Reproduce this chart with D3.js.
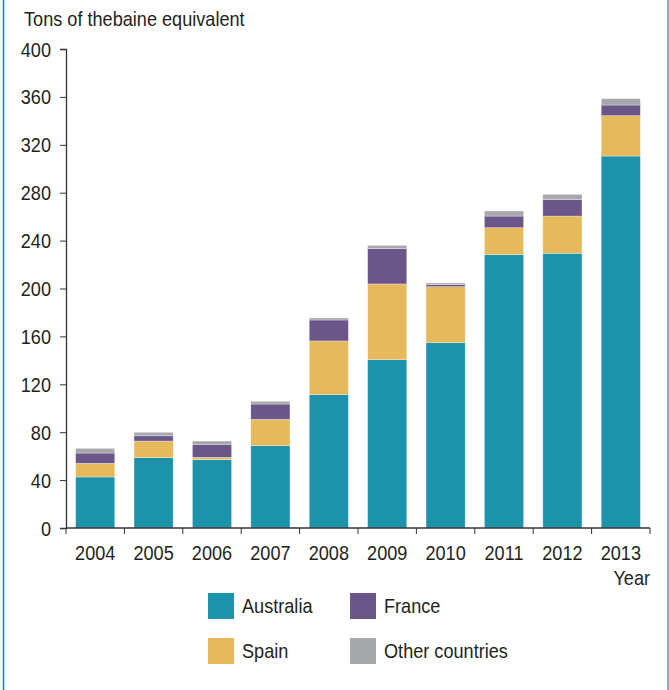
<!DOCTYPE html>
<meta charset="utf-8">
<title>Thebaine production</title>
<style>
  body { margin: 0; background: #fff; }
  text { font-family: "Liberation Sans", Arial, sans-serif; fill: #231f20; font-size: 19.5px; }
  .axis path, .axis line { stroke: #333; }
</style>
<body>
<script src="https://cdn.jsdelivr.net/npm/d3@7"></script>
<script>

var width = 669,
    height = 690;

var years = ["2004", "2005", "2006", "2007", "2008", "2009", "2010", "2011", "2012", "2013"];
var countries = ["Australia", "Spain", "France", "Other countries"];
var colors = ["#1c93aa", "#e6b95c", "#6a5689", "#a7a8ac"];

// tons of thebaine equivalent
var australia = [42.6, 58.7, 57.0, 68.7, 111.3, 140.6, 154.8, 228.3, 229.4, 310.6];
var spain     = [11.4, 13.9,  2.0, 22.0,  44.9,  63.2,  46.7,  22.5,  31.1,  33.7];
var france    = [ 8.6,  4.4, 10.9, 12.8,  17.5,  29.5,   1.7,   9.7,  13.7,   8.9];
var other     = [ 3.9,  2.9,  2.7,  2.3,   1.7,   2.7,   1.4,   4.2,   4.4,   5.3];
var yTicks = [0, 40, 80, 120, 160, 200, 240, 280, 320, 360, 400];

var rows = years.map(function(y, i) {
  return {year: y, "Australia": australia[i], "Spain": spain[i], "France": france[i], "Other countries": other[i]};
});

var svg = d3.select("body").append("svg")
  .attr("width", width)
  .attr("height", height);

// squeeze text a little, the original uses a narrow face
function narrow(sel) {
  sel.each(function() {
    var t = d3.select(this);
    var tx = +t.attr("x") || 0, ty = +t.attr("y") || 0;
    t.attr("x", 0).attr("y", 0)
     .attr("transform", "translate(" + tx + "," + ty + ") scale(0.93,1)");
  });
}

// frame lines left and right
svg.append("line").attr("x1", 3.5).attr("x2", 3.5).attr("y1", 0).attr("y2", height)
  .attr("stroke", "#1f88bb").attr("stroke-width", 1.6);
svg.append("line").attr("x1", 668).attr("x2", 668).attr("y1", 0).attr("y2", height)
  .attr("stroke", "#44a6cf").attr("stroke-width", 1.6);

var x = d3.scaleBand().domain(years).range([66, 650]).paddingInner(0.33).paddingOuter(0.165);
var y = d3.scaleLinear().domain([0, 400]).range([528, 49]);
var color = d3.scaleOrdinal().domain(countries).range(colors);

var series = d3.stack().keys(countries)(rows);

svg.append("g").selectAll("g")
  .data(series)
  .enter().append("g")
    .attr("fill", function(d) { return color(d.key); })
  .selectAll("rect")
  .data(function(d) { return d; })
  .enter().append("rect")
    .attr("x", function(d) { return x(d.data.year); })
    .attr("width", x.bandwidth())
    .attr("y", function(d) { return y(d[1]); })
    .attr("height", function(d) { return y(d[0]) - y(d[1]); })
    .attr("stroke", "#fff")
    .attr("stroke-opacity", 0.5)
    .attr("stroke-width", 0.6);

// y axis
var yAxis = svg.append("g")
  .attr("class", "axis")
  .attr("transform", "translate(66,0)")
  .call(d3.axisLeft(y).tickValues(yTicks).tickSize(6).tickPadding(9));
yAxis.selectAll("text").attr("font-size", null).style("font-size", "19.5px").attr("dy", "0.36em");
narrow(yAxis.selectAll("text"));
yAxis.select(".domain").attr("stroke-width", 1.3);

// x axis: line + boundary ticks, labels under the bars
var xg = svg.append("g").attr("class", "axis");
xg.append("line").attr("x1", 66).attr("x2", 650).attr("y1", 528).attr("y2", 528)
  .attr("stroke-width", 1.3);
var step = x.step();
xg.selectAll(".bt")
  .data(d3.range(years.length + 1))
  .enter().append("line")
    .attr("x1", function(i) { return 66 + i * step; })
    .attr("x2", function(i) { return 66 + i * step; })
    .attr("y1", 528).attr("y2", 534);
var yl = xg.selectAll(".yl")
  .data(years)
  .enter().append("text")
    .attr("x", function(d) { return x(d) + x.bandwidth() / 2; })
    .attr("y", 560)
    .attr("text-anchor", "middle")
    .text(function(d) { return d; });
narrow(yl);

narrow(svg.append("text")
  .attr("x", 650).attr("y", 585)
  .attr("text-anchor", "end")
  .text("Year"));

narrow(svg.append("text")
  .attr("x", 24).attr("y", 26)
  .text("Tons of thebaine equivalent"));

// legend
var legendOrder = ["Australia", "France", "Spain", "Other countries"];
var leg = svg.append("g").selectAll("g")
  .data(legendOrder)
  .enter().append("g")
    .attr("transform", function(d, i) {
      return "translate(" + (208 + (i % 2) * 142) + "," + (593 + Math.floor(i / 2) * 45) + ")";
    });
leg.append("rect").attr("width", 26).attr("height", 26)
  .attr("fill", function(d) { return color(d); });
narrow(leg.append("text").attr("x", 34).attr("y", 20)
  .text(function(d) { return d; }));

</script>
</body>
